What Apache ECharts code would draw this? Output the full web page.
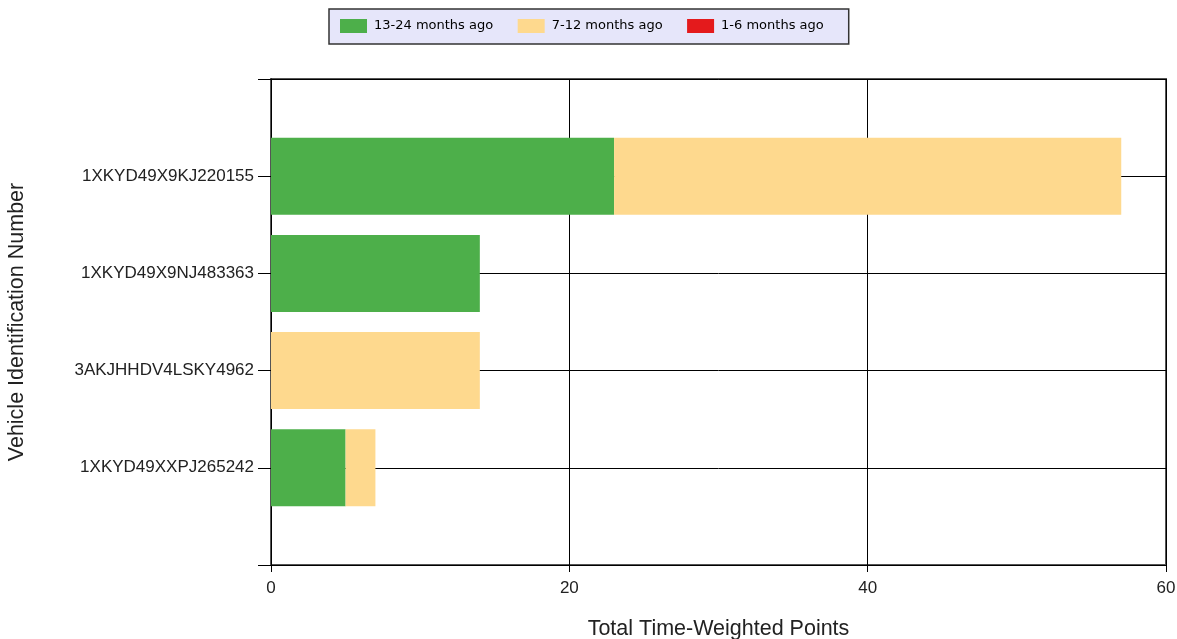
<!DOCTYPE html>
<html>
<head>
<meta charset="utf-8">
<script src="https://cdn.jsdelivr.net/npm/echarts@6/dist/echarts.min.js"></script>
<style>
html,body{margin:0;padding:0;background:#fff;}
#chart{width:1177px;height:639px;}
</style>
</head>
<body>
<div id="chart"></div>
<script>
const vins = ['1XKYD49X9KJ220155', '1XKYD49X9NJ483363', '3AKJHHDV4LSKY4962', '1XKYD49XXPJ265242'];
const months13to24 = [23, 14, 0, 5];
const months7to12 = [34, 0, 14, 2];
const months1to6 = [0, 0, 0, 0];
const seriesNames = ['13-24 months ago', '7-12 months ago', '1-6 months ago'];
const seriesColors = ['#4DAF4A', '#FED98E', '#E41A1C'];
const xTicks = { min: 0, max: 60, interval: 20 };

// pad the category axis with empty slots so the rows sit on ticks
const yCats = [''].concat(vins, ['']);
const pad = arr => [null].concat(arr, [null]);

const chart = echarts.init(document.getElementById('chart'));
const font = 'Liberation Sans, Arial, sans-serif';
chart.setOption({
  animation: false,
  backgroundColor: '#fff',
  legend: {
    left: 329, top: 9,
    padding: [10, 25, 11, 11],
    itemWidth: 27, itemHeight: 14, itemGap: 24.5,
    backgroundColor: '#E6E6FA',
    borderColor: '#333', borderWidth: 1.5,
    icon: 'rect',
    textStyle: { fontFamily: 'DejaVu Sans', fontSize: 13, color: '#000', padding: [0, 0, 0, 2] },
    data: seriesNames
  },
  grid: { left: 271, right: 11, top: 79, bottom: 74, containLabel: false, outerBoundsMode: 'none',
          show: true, borderColor: '#555', borderWidth: 2, backgroundColor: 'transparent' },
  xAxis: {
    type: 'value', min: xTicks.min, max: xTicks.max, interval: xTicks.interval,
    name: 'Total Time-Weighted Points', nameLocation: 'middle', nameGap: 53,
    nameTextStyle: { fontFamily: font, fontSize: 21.5, color: '#222' },
    axisLine: { show: true, lineStyle: { color: '#000', width: 1 } },
    axisTick: { show: true, length: 7, lineStyle: { color: '#000' } },
    axisLabel: { fontFamily: font, fontSize: 17, color: '#222', margin: 15 },
    splitLine: { show: true, lineStyle: { color: '#000', width: 1 } }
  },
  yAxis: {
    type: 'category', data: yCats, inverse: true, boundaryGap: false,
    name: 'Vehicle Identification Number', nameLocation: 'middle', nameGap: 243,
    nameTextStyle: { fontFamily: font, fontSize: 21.5, color: '#222' },
    axisLine: { show: true, lineStyle: { color: '#000', width: 1 } },
    axisTick: { show: true, length: 13, lineStyle: { color: '#000' } },
    axisLabel: { fontFamily: font, fontSize: 17, color: '#222', margin: 17 },
    splitLine: { show: true, lineStyle: { color: '#000', width: 1 } }
  },
  series: [months13to24, months7to12, months1to6].map((d, i) => ({
    name: seriesNames[i], type: 'bar', stack: 'total',
    barWidth: 77,
    itemStyle: { color: seriesColors[i] },
    data: pad(d)
  }))
});
</script>
</body>
</html>
